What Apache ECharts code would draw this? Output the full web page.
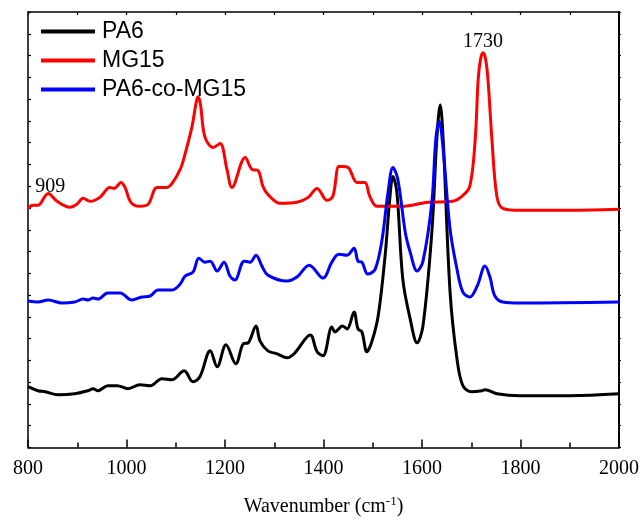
<!DOCTYPE html>
<html>
<head>
<meta charset="utf-8">
<script src="https://cdn.jsdelivr.net/npm/echarts@6/dist/echarts.min.js"></script>
<style>html,body{margin:0;padding:0;background:#fff;}#c{width:643px;height:522px;}</style>
</head>
<body>
<div id="c"></div>
<script>
// Wavenumbers (cm-1) and intensities (arbitrary units, offset curves)
const pa6Wn = [800,820,835,861,895,922,932,942,962,981,1003,1027,1048,1072,1092,1117,1135,1149,1170,1184,1202,1222,1237,1247,1263,1271,1287,1306,1326,1342,1373,1387,1399,1417,1423,1431,1438,1448,1462,1470,1478,1488,1498,1511,1525,1535,1541,1549,1561,1576,1590,1602,1620,1630,1637,1643,1657,1671,1683,1701,1722,1728,1752,1799,1901,2000];
const pa6Val = [61,57,56,53,54,57,59,57,62,62,59,63,62,69,68,77,66,71,97,81,103,84,104,105,122,107,97,94,90,95,113,96,92,121,116,119,122,119,136,119,116,96,106,132,192,252,272,256,169,129,105,122,216,309,344,309,156,89,62,56,57,58,54,52,52,54];

const mg15Wn = [800,810,820,841,859,885,899,912,926,946,966,975,989,997,1009,1027,1044,1062,1082,1094,1109,1117,1133,1141,1145,1150,1159,1176,1190,1204,1214,1241,1255,1267,1277,1287,1312,1346,1369,1387,1407,1419,1431,1438,1450,1468,1484,1494,1509,1559,1612,1661,1681,1697,1708,1714,1719,1724,1729,1734,1742,1752,1764,1799,1901,2000];
const mg15Val = [240,243,243,255,247,241,244,250,247,251,261,260,266,261,246,242,244,261,261,266,279,291,322,345,352,345,312,301,305,279,261,291,279,278,262,254,245,246,251,260,248,252,282,282,281,266,266,252,242,242,246,247,252,262,309,369,390,396,390,369,309,252,240,238,238,239];

const coWn = [800,820,841,869,895,912,922,932,942,962,987,1011,1031,1048,1064,1092,1109,1119,1135,1147,1159,1170,1184,1198,1210,1220,1239,1251,1263,1275,1287,1326,1346,1371,1399,1417,1431,1448,1462,1470,1478,1490,1505,1519,1531,1541,1551,1566,1576,1590,1602,1620,1628,1635,1643,1657,1671,1683,1697,1712,1728,1738,1748,1764,1799,2000];
const coVal = [147,146,148,145,146,149,148,150,149,155,155,148,151,152,158,158,164,172,176,190,186,187,177,186,172,168,187,186,193,182,173,167,171,183,170,186,194,193,200,187,186,174,179,209,256,281,269,216,196,177,187,246,309,327,299,219,179,156,151,162,182,171,152,146,145,146];

const seriesNames = ['PA6','MG15','PA6-co-MG15'];
const annotations = [{name:'909', wn:845, val:262, series:1}, {name:'1730', wn:1724, val:407, series:1}];

function pairs(xs, ys){ return xs.map((x,i)=>[x, ys[i]]); }

const chart = echarts.init(document.getElementById('c'));
const serif = '"Liberation Serif","DejaVu Serif",serif';
const sans = '"Liberation Sans",Arial,sans-serif';
const lineW = 3;
const mk = (name, data, color) => ({
  name, type:'line', data, showSymbol:false, symbol:'none', smooth:0.35,
  lineStyle:{color, width:lineW}, itemStyle:{color}, z:3,
  markPoint: {
    symbol:'circle', symbolSize:0, silent:true,
    label:{show:true, position:'inside', color:'#000', fontFamily:serif, fontSize:20, formatter:p=>p.name},
    data: annotations.filter(a=>seriesNames[a.series]===name).map(a=>({name:a.name, coord:[a.wn,a.val]}))
  }
});
const option = {
  animation:false,
  grid:{left:28, right:24, top:12, bottom:73, containLabel:false},
  legend:{
    orient:'vertical', left:36, top:15, itemGap:6,
    icon:'rect', itemWidth:54, itemHeight:4,
    textStyle:{fontFamily:sans, fontSize:23, color:'#000', lineHeight:23, padding:[0,0,0,2]},
    data:seriesNames
  },
  xAxis:[{
    type:'value', min:800, max:2000, interval:200, position:'bottom',
    name:'Wavenumber (cm{sup|-1})', nameLocation:'middle', nameGap:48,
    nameTextStyle:{fontFamily:serif, fontSize:20, color:'#000',
      rich:{sup:{fontFamily:serif, fontSize:13, color:'#000', verticalAlign:'top', padding:[0,0,10,0]}}},
    axisLine:{show:true, onZero:false, lineStyle:{color:'#000', width:1.5}},
    axisTick:{inside:true, length:8, lineStyle:{color:'#000', width:1.5}},
    minorTick:{show:true, splitNumber:2, length:5, lineStyle:{color:'#000', width:1.5}},
    axisLabel:{fontFamily:serif, fontSize:20, color:'#000', margin:11, formatter:v=>String(v)},
    splitLine:{show:false}
  },{
    type:'value', min:800, max:2000, interval:100, position:'top',
    axisLine:{show:true, onZero:false, lineStyle:{color:'#000', width:1.5}},
    axisTick:{inside:true, length:3, lineStyle:{color:'#000', width:1.2}},
    axisLabel:{show:false}, splitLine:{show:false}
  }],
  yAxis:[{
    type:'value', min:0, max:437, interval:21.85, position:'left',
    axisLine:{show:true, onZero:false, lineStyle:{color:'#000', width:1.5}},
    axisTick:{show:true, inside:true, length:3, lineStyle:{color:'#000', width:1.2}},
    axisLabel:{show:false}, splitLine:{show:false}
  },{
    type:'value', min:0, max:437, interval:21.85, position:'right',
    axisLine:{show:true, onZero:false, lineStyle:{color:'#000', width:2}},
    axisTick:{show:true, inside:false, length:2, lineStyle:{color:'#000', width:1.2}},
    axisLabel:{show:false}, splitLine:{show:false}
  }],
  series:[
    mk('PA6', pairs(pa6Wn, pa6Val), '#000000'),
    mk('MG15', pairs(mg15Wn, mg15Val), '#ff0000'),
    mk('PA6-co-MG15', pairs(coWn, coVal), '#0000ff')
  ]
};
chart.setOption(option);
</script>
</body>
</html>
